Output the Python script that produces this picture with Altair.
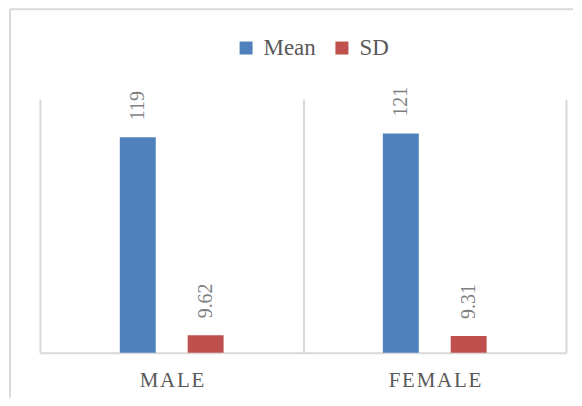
import altair as alt
import pandas as pd

categories = ["MALE", "FEMALE"]
series = ["Mean", "SD"]
mean_values = [119, 121]
sd_values = [9.62, 9.31]
colors = ["#4f81bd", "#c0504d"]

rows = []
for i, c in enumerate(categories):
    rows.append({"cat": c, "series": "Mean", "value": mean_values[i]})
    rows.append({"cat": c, "series": "SD", "value": sd_values[i]})
df = pd.DataFrame(rows)

W, H = 527, 254
FONT = "Liberation Serif"
GRID = "#d9d9d9"

x_enc = alt.X(
    "cat:N",
    sort=categories,
    scale=alt.Scale(paddingInner=0, paddingOuter=0),
    axis=alt.Axis(
        title=None,
        grid=True,
        gridColor=GRID,
        gridWidth=2,
        tickBand="extent",
        ticks=False,
        domainColor=GRID,
        domainWidth=2,
        labelFont=FONT,
        labelFontSize=21,
        labelColor="#595959",
        labelPadding=17,
        labelAngle=0,
        labelExpr="join(split(datum.label, ''), '\u200a')",
    ),
)
xoff = alt.XOffset(
    "series:N",
    sort=series,
    scale=alt.Scale(range=[80, 184], paddingInner=0.47, paddingOuter=0),
)
y_enc = alt.Y("value:Q", scale=alt.Scale(domain=[0, 140]), axis=None)

base = alt.Chart(df).encode(x=x_enc, xOffset=xoff, y=y_enc)

bars = base.mark_bar().encode(
    color=alt.Color(
        "series:N",
        sort=series,
        scale=alt.Scale(domain=series, range=colors),
        legend=alt.Legend(
            title=None,
            orient="none",
            direction="horizontal",
            legendX=195,
            legendY=-63,
            symbolType="square",
            symbolSize=169,
            symbolStrokeWidth=0,
            symbolOpacity=1,
            labelFont=FONT,
            labelFontSize=23,
            labelColor="#595959",
            labelOffset=6,
            columnPadding=14,
            padding=0,
        ),
    )
)

labels = base.mark_text(
    angle=270,
    align="left",
    baseline="middle",
    dx=17,
    font=FONT,
    fontSize=20,
    color="#7f7f7f",
).encode(text=alt.Text("value:Q", format="~g"))

frame_df = pd.DataFrame({"k": [0]})
frame_left = alt.Chart(frame_df).mark_rule(color=GRID, strokeWidth=2).encode(
    x=alt.value(-30), y=alt.value(-90), y2=alt.value(H + 45)
)
frame_top = alt.Chart(frame_df).mark_rule(color=GRID, strokeWidth=2).encode(
    y=alt.value(-90), x=alt.value(-30), x2=alt.value(W + 7)
)

chart = (
    alt.layer(bars, labels, frame_left, frame_top)
    .properties(
        width=W,
        height=H,
        padding={"left": 1, "top": 0, "right": 0, "bottom": 0},
    )
    .configure_view(stroke=None)
)

chart.save("out.html", embed_options={"renderer": "svg", "actions": False})
